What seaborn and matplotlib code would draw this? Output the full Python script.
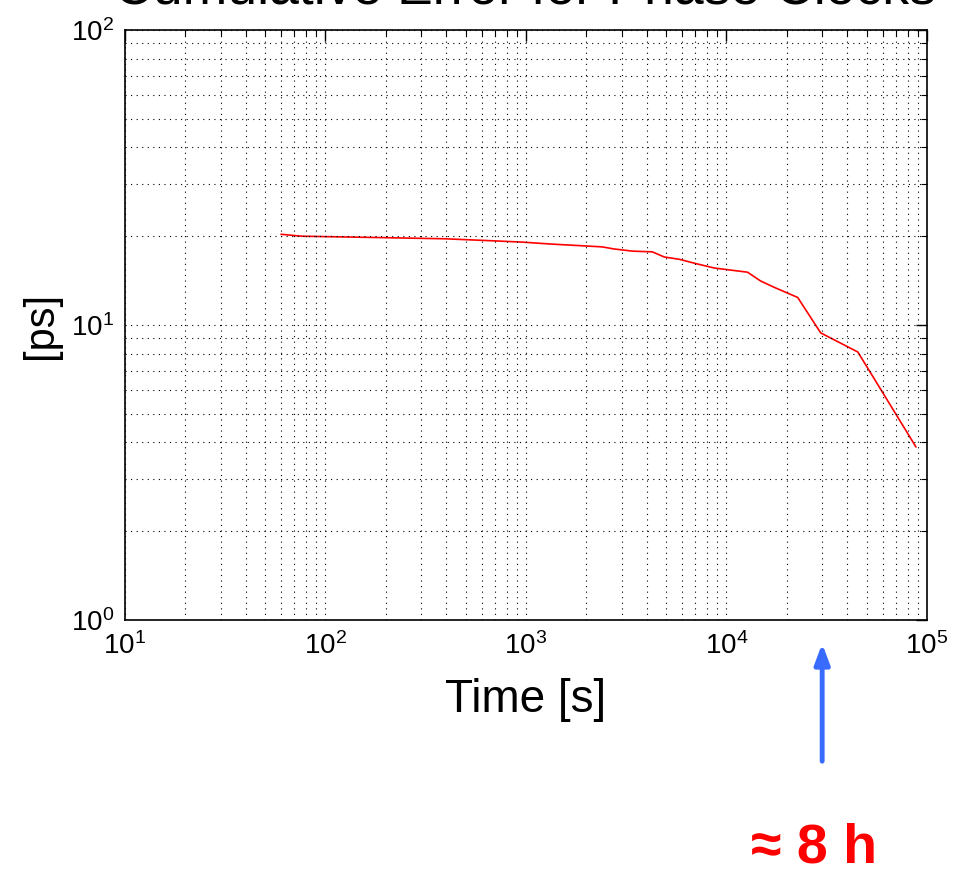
import numpy as np
import pandas as pd
import matplotlib
matplotlib.use("Agg")
import matplotlib.pyplot as plt
from matplotlib.ticker import LogLocator, NullFormatter
import seaborn as sns

# Cumulative error curve
time_s = [60, 76, 176, 394, 676, 955, 1349, 1799, 2399, 2754, 3388, 4266,
          4898, 5821, 7161, 8710, 10116, 12735, 14791, 17378, 22646, 29512,
          45186, 88105]
error_ps = [20.3, 20.0, 19.8, 19.6, 19.3, 19.1, 18.8, 18.6, 18.4, 18.1, 17.8,
            17.7, 17.0, 16.7, 16.1, 15.6, 15.4, 15.1, 14.1, 13.4, 12.4, 9.4,
            8.1, 3.86]

title_text = "Cumulative Error for Phase Clocks"
x_label = "Time [s]"
y_label = "[ps]"
arrow_time = 30000
note_text = "≈ 8 h"

df = pd.DataFrame({"Time": time_s, "Error": error_ps})

sns.set_style("white")
plt.rcParams["font.family"] = ["Liberation Sans", "DejaVu Sans"]
plt.rcParams["mathtext.fontset"] = "custom"
plt.rcParams["mathtext.rm"] = "Liberation Sans"
plt.rcParams["text.color"] = "black"
plt.rcParams["axes.labelcolor"] = "black"
plt.rcParams["xtick.color"] = "black"
plt.rcParams["ytick.color"] = "black"

fig = plt.figure(figsize=(9.54, 8.71), dpi=100)
ax = fig.add_axes([125 / 954, 1 - 620 / 871, 802 / 954, 590 / 871])

sns.lineplot(data=df, x="Time", y="Error", ax=ax, color="#ff0000",
             linewidth=1.2, estimator=None, sort=False)

ax.set_xscale("log")
ax.set_yscale("log")
ax.set_xlim(10, 1e5)
ax.set_ylim(1, 100)

ax.xaxis.set_major_locator(LogLocator(base=10))
ax.yaxis.set_major_locator(LogLocator(base=10))
ax.xaxis.set_minor_locator(LogLocator(base=10, subs=np.arange(2, 10)))
ax.yaxis.set_minor_locator(LogLocator(base=10, subs=np.arange(2, 10)))
ax.xaxis.set_minor_formatter(NullFormatter())
ax.yaxis.set_minor_formatter(NullFormatter())

ax.grid(True, which="both", color="black", linestyle=(0, (1, 4)), linewidth=0.8)
ax.tick_params(which="both", direction="in", top=True, right=True,
               labelsize=20, labelcolor="black", color="black")
ax.tick_params(which="major", length=8, width=1)
ax.tick_params(axis="x", which="major", pad=9)
ax.tick_params(axis="y", which="major", pad=8)
ax.tick_params(which="minor", length=4, width=0.8)
for s in ax.spines.values():
    s.set_color("black")
    s.set_linewidth(1.2)

ax.set_xlabel(x_label, fontsize=33)
ax.set_ylabel(y_label, fontsize=30)
ax.xaxis.set_label_coords(0.5, (620 - 700) / 590)
ax.xaxis.label.set_va("center")
ax.yaxis.set_label_coords((41 - 125) / 802, 0.5)
ax.yaxis.label.set_va("center")
ax.set_axisbelow(False)

# title sits mostly above the top edge, as in the source screenshot
fig.text(525 / 954, 1 - 4 / 871, title_text, fontsize=38.5, ha="center",
         va="baseline")

# blue arrow pointing to ~8 h on the time axis
ax.annotate("", xy=(arrow_time, 0.85), xytext=(arrow_time, 0.325),
            xycoords="data", textcoords="data", annotation_clip=False,
            arrowprops=dict(arrowstyle="-|>,head_length=1.2,head_width=0.45",
                            color="#3a6bff", linewidth=3.5))
fig.text(814 / 954, 1 - 848 / 871, note_text, fontsize=40, color="#ff0000",
         fontweight="bold", ha="center", va="center")

fig.savefig("out.png", dpi=100)
